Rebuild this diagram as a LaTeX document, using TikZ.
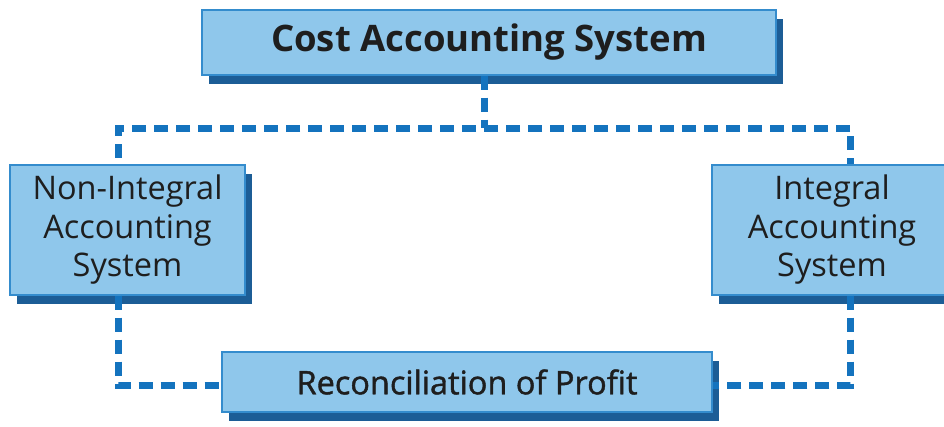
\documentclass[tikz,border=0pt]{standalone}
\usepackage{fontspec}
\setmainfont{Open Sans}
\newfontfamily\semib{Open Sans}[FakeBold=1.3]
\usetikzlibrary{shadows}
\definecolor{boxfill}{RGB}{143,199,235}
\definecolor{boxline}{RGB}{52,140,205}
\definecolor{shadowc}{RGB}{28,93,150}
\definecolor{dashc}{RGB}{20,115,190}
\definecolor{txt}{RGB}{30,30,30}
\tikzset{
  box/.style={draw=boxline, line width=1.2pt, fill=boxfill, text=txt, align=center,
    inner sep=0pt, general shadow={fill=shadowc, shadow xshift=7pt, shadow yshift=-9pt}},
  conn/.style={draw=dashc, line width=7pt, dash pattern=on 14pt off 8pt},
}
\begin{document}
\begin{tikzpicture}[x=1pt,y=-1pt]
\clip (0,0) rectangle (944,426);
\fill[white] (0,0) rectangle (944,426);
\coordinate (j) at (484,128);
\coordinate (tl) at (118,128);
\coordinate (tr) at (850,128);
\coordinate (bl) at (118,385);
\coordinate (br) at (850,385);
\node[box, minimum width=574pt, minimum height=65pt, font=\fontsize{36.5}{40}\selectfont\bfseries] (top) at (489,42.5) {Cost Accounting System};
\node[box, minimum width=235pt, minimum height=130pt, font=\fontsize{32.5}{38.5}\selectfont] (left) at (127.5,230) {Non-Integral\\Accounting\\System};
\node[box, minimum width=240pt, minimum height=130pt, font=\fontsize{32.5}{38.5}\selectfont] (right) at (832,230) {Integral\\Accounting\\System};
\node[box, minimum width=490pt, minimum height=60pt, font=\fontsize{32.5}{36}\selectfont\semib] (bot) at (467,382) {Reconciliation of Profit};
\draw[conn] (top.south -| j) -- (j);
\draw[conn] (tr) -- (tl) -- (tl |- left.north);
\draw[conn] (j) -- (tr) -- (tr |- right.north);
\draw[conn] (tl |- left.south) -- (bl) -- (bot.west |- bl);
\draw[conn] (tr |- right.south) -- (br) -- (bot.east |- br);
\end{tikzpicture}
\end{document}
